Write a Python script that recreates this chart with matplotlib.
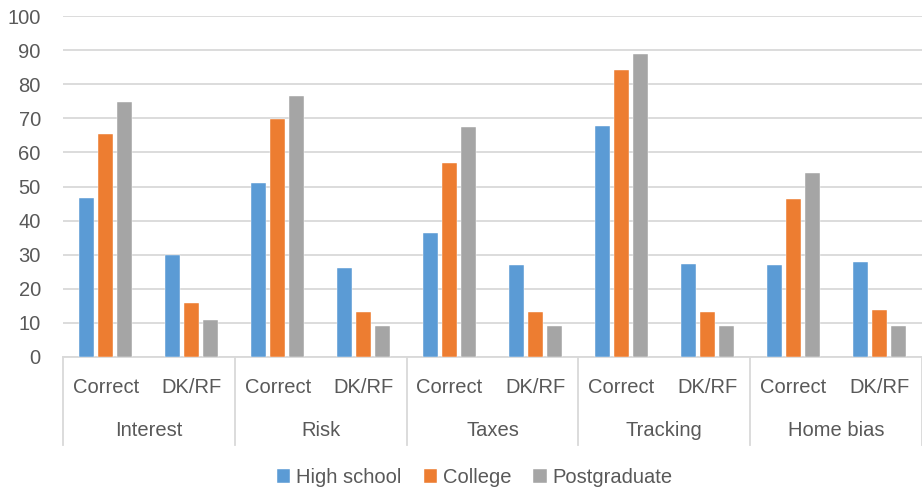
import matplotlib
matplotlib.use("Agg")
import matplotlib.pyplot as plt
from matplotlib.transforms import blended_transform_factory
import numpy as np

plt.rcParams['font.family'] = ['Liberation Sans', 'DejaVu Sans']

groups = ["Interest", "Risk", "Taxes", "Tracking", "Home bias"]
subcats = ["Correct", "DK/RF"]
series = ["High school", "College", "Postgraduate"]
high_school = [46.7, 29.8, 50.9, 26.2, 36.5, 27.0, 67.6, 27.3, 27.1, 28.0]
college = [65.5, 15.7, 69.9, 13.2, 56.8, 13.3, 84.2, 13.3, 46.4, 13.9]
postgraduate = [74.7, 10.8, 76.5, 9.0, 67.4, 9.1, 89.0, 9.0, 54.0, 9.1]
colors = ["#5B9BD5", "#ED7D31", "#A5A5A5"]
yticks = [0, 10, 20, 30, 40, 50, 60, 70, 80, 90, 100]

FS = 14.5
fig = plt.figure(figsize=(9.22, 4.88), dpi=100)
ax = fig.add_axes([63/922, 1-357/488, 1-63/922, 341/488])

x = np.arange(len(high_school))
w = 0.174
step = 0.221
for i, (vals, c, name) in enumerate(zip([high_school, college, postgraduate], colors, series)):
    ax.bar(x + (i-1)*step, vals, width=w, color=c, label=name, zorder=3,
           edgecolor='white', linewidth=0.3)

ax.set_xlim(-0.5, len(x)-0.5)
ax.set_ylim(0, 100)
ax.set_yticks(yticks)
ax.set_yticklabels([str(t) for t in yticks], fontsize=FS, color='#595959')
ax.tick_params(axis='y', length=0, pad=16)
ax.set_xticks([])
ax.yaxis.grid(True, color='#D9D9D9', linewidth=1.3, zorder=0)
for s in ['top', 'right', 'left']:
    ax.spines[s].set_visible(False)
ax.spines['bottom'].set_color('#D9D9D9')
ax.spines['bottom'].set_linewidth(1.3)

trans = blended_transform_factory(ax.transData, ax.transAxes)
for k in range(len(x)):
    ax.text(x[k], -0.088, subcats[k % 2], transform=trans, ha='center', va='center',
            fontsize=FS, color='#595959')
for g, name in enumerate(groups):
    ax.text(2*g + 0.5, -0.217, name, transform=trans, ha='center', va='center',
            fontsize=FS, color='#595959')
for b in range(len(groups)+1):
    ax.plot([2*b - 0.5, 2*b - 0.5], [0, -0.258], transform=trans, color='#D9D9D9',
            linewidth=1.3, clip_on=False)

fig.legend(loc='lower center', bbox_to_anchor=(0.515, -0.035), ncol=3, frameon=False,
           handlelength=0.65, handleheight=0.7, handletextpad=0.3, columnspacing=1.1,
           prop={'size': FS}, labelcolor='#595959')

fig.savefig("out.png", dpi=100)
